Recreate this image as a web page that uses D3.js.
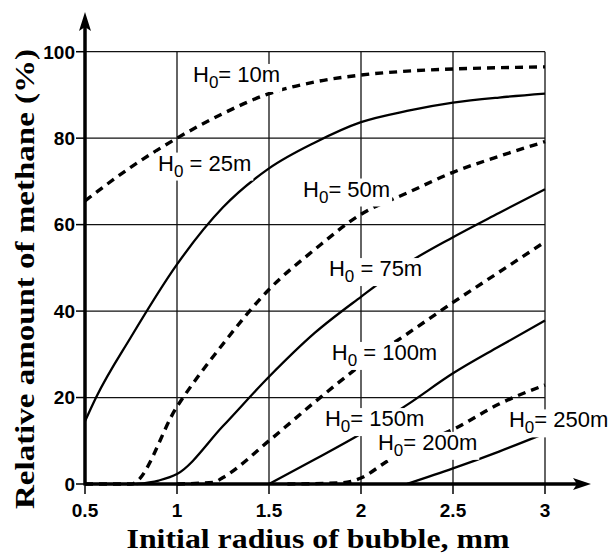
<!DOCTYPE html>
<html>
<head>
<meta charset="utf-8">
<script src="https://cdn.jsdelivr.net/npm/d3@7"></script>
<style>
  html, body { margin: 0; padding: 0; background: #fff; }
  svg { display: block; }
</style>
</head>
<body>
<div id="chart"></div>
<script>
// radius (mm) and relative amount of methane (%) for each initial depth H0
const r10 = [0.5, 0.75, 1, 1.25, 1.5, 1.75, 2, 2.25, 2.5, 2.75, 3];
const v10 = [65.5, 73.3, 80, 85.7, 90.3, 93, 94.6, 95.5, 96, 96.3, 96.5];
const r25 = [0.5, 0.56, 0.75, 1, 1.25, 1.5, 1.75, 2, 2.25, 2.5, 2.75, 3];
const v25 = [14.5, 20, 34, 50.8, 64, 73, 79, 83.7, 86.3, 88.2, 89.4, 90.3];
const r50 = [0.5, 0.75, 1, 1.25, 1.5, 1.75, 2, 2.25, 2.5, 2.75, 3];
const v50 = [0, 0, 17.9, 32.4, 45, 54.3, 62.4, 67.3, 72.1, 75.8, 79.2];
const r75 = [0.78, 0.9, 1, 1.25, 1.5, 1.75, 2, 2.25, 2.5, 2.75, 3];
const v75 = [0, 0.8, 2.3, 13.4, 24.8, 35, 43.3, 51, 57.1, 62.7, 68.2];
const r100 = [1, 1.2, 1.25, 1.5, 1.75, 2, 2.25, 2.5, 2.75, 3];
const v100 = [0, 0.4, 1.5, 10, 19, 27.5, 34.7, 42, 49, 56];
const r150 = [1.5, 1.75, 2, 2.25, 2.5, 2.75, 3];
const v150 = [0, 5.7, 11.6, 18.3, 25.6, 31.8, 37.8];
const r200 = [1.6, 1.9, 2, 2.14, 2.28, 2.5, 2.75, 3];
const v200 = [0, 0.3, 1.4, 5.2, 8.6, 12.6, 18.5, 22.9];
const r250 = [2.25, 2.5, 2.75, 3];
const v250 = [0, 3.6, 7.5, 11.7];

const depths = ["10m", "25m", "50m", "75m", "100m", "150m", "200m", "250m"];
const radii = [r10, r25, r50, r75, r100, r150, r200, r250];
const values = [v10, v25, v50, v75, v100, v150, v200, v250];
const dashed = [true, false, true, false, true, false, true, false];
// where each H0 label sits (data coords of the "H" start / baseline)
const labelX = [1.087, 0.897, 1.685, 1.826, 1.841, 1.804, 2.092, 2.804];
const labelY = [93.0, 72.5, 66.5, 48.1, 28.7, 13.4, 7.9, 13.1];
const labelEq = ["= ", " = ", "= ", " = ", " = ", "= ", "= ", "= "];

const xTicks = [0.5, 1, 1.5, 2, 2.5, 3];
const yTicks = [0, 20, 40, 60, 80, 100];

const width = 609, height = 554;

const svg = d3.select("#chart").append("svg")
    .attr("width", width)
    .attr("height", height);

const x = d3.scaleLinear().domain([0.5, 3]).range([85, 545]);
const y = d3.scaleLinear().domain([0, 100]).range([484, 51.7]);

// grid
const grid = svg.append("g").attr("stroke", "#111").attr("stroke-width", 1.3);
grid.selectAll("line.v")
    .data(xTicks.slice(1))
    .join("line")
    .attr("x1", d => x(d)).attr("x2", d => x(d))
    .attr("y1", y(0)).attr("y2", y(100));
grid.selectAll("line.h")
    .data(yTicks.slice(1))
    .join("line")
    .attr("x1", x(0.5)).attr("x2", x(3))
    .attr("y1", d => y(d)).attr("y2", d => y(d));

// curves
const line = d3.line()
    .x(d => x(d[0]))
    .y(d => y(d[1]))
    .curve(d3.curveMonotoneX);

svg.append("g").selectAll("path")
    .data(depths.map((h, i) => ({ h, dashed: dashed[i], pts: d3.zip(radii[i], values[i]) })))
    .join("path")
    .attr("fill", "none")
    .attr("stroke", "#000")
    .attr("stroke-width", d => d.dashed ? 3.4 : 2.3)
    .attr("stroke-dasharray", d => d.dashed ? "8,6" : null)
    .attr("d", d => line(d.pts));

// axes
const axes = svg.append("g");
axes.append("line")
    .attr("x1", x(0.5)).attr("x2", 580)
    .attr("y1", y(0)).attr("y2", y(0))
    .attr("stroke", "#000").attr("stroke-width", 3.5);
axes.append("line")
    .attr("x1", x(0.5)).attr("x2", x(0.5))
    .attr("y1", y(0) + 1.5).attr("y2", 24)
    .attr("stroke", "#000").attr("stroke-width", 3.5);
axes.append("path")
    .attr("d", `M591,${y(0)} L573,${y(0) - 6} L577,${y(0)} L573,${y(0) + 6} Z`)
    .attr("fill", "#000");
axes.append("path")
    .attr("d", `M${x(0.5)},12 L${x(0.5) - 6},31 L${x(0.5)},27 L${x(0.5) + 6},31 Z`)
    .attr("fill", "#000");

// ticks
axes.selectAll("line.xt")
    .data(xTicks)
    .join("line")
    .attr("x1", d => x(d)).attr("x2", d => x(d))
    .attr("y1", y(0)).attr("y2", y(0) + 10)
    .attr("stroke", "#000").attr("stroke-width", 1.5);
axes.selectAll("line.yt")
    .data(yTicks)
    .join("line")
    .attr("x1", x(0.5) - 9).attr("x2", x(0.5))
    .attr("y1", d => y(d)).attr("y2", d => y(d))
    .attr("stroke", "#000").attr("stroke-width", 1.5);

const tickFont = "'Liberation Sans', Arial, sans-serif";
axes.selectAll("text.xl")
    .data(xTicks)
    .join("text")
    .attr("x", d => x(d))
    .attr("y", 517)
    .attr("text-anchor", "middle")
    .style("font", `bold 19px ${tickFont}`)
    .text(d => d);
axes.selectAll("text.yl")
    .data(yTicks)
    .join("text")
    .attr("x", 75)
    .attr("y", d => y(d))
    .attr("dy", "0.36em")
    .attr("text-anchor", "end")
    .style("font", `bold 19px ${tickFont}`)
    .text(d => d);

// axis titles
const titleFont = "'Liberation Serif', 'Times New Roman', serif";
svg.append("text")
    .attr("x", 318)
    .attr("y", 548)
    .attr("text-anchor", "middle")
    .attr("textLength", 383)
    .attr("lengthAdjust", "spacingAndGlyphs")
    .style("font", `bold 27px ${titleFont}`)
    .text("Initial radius of bubble, mm");
svg.append("text")
    .attr("transform", "translate(34,279) rotate(-90)")
    .attr("text-anchor", "middle")
    .attr("textLength", 460)
    .attr("lengthAdjust", "spacingAndGlyphs")
    .style("font", `bold 28px ${titleFont}`)
    .text("Relative amount of methane  (%)");

// H0 labels with white backing
const labels = svg.append("g");
depths.forEach((h, i) => {
    const g = labels.append("g");
    const bg = g.append("rect").attr("fill", "#fff");
    const t = g.append("text")
        .attr("x", x(labelX[i]))
        .attr("y", y(labelY[i]))
        .style("font", `22px ${tickFont}`);
    t.append("tspan").text("H");
    t.append("tspan").attr("dy", 6).style("font-size", "17px").text("0");
    t.append("tspan").attr("dy", -6).text(labelEq[i] + h);
    const b = t.node().getBBox();
    bg.attr("x", b.x - 2).attr("y", b.y + 2)
      .attr("width", b.width + 4).attr("height", b.height - 2);
});
</script>
</body>
</html>
